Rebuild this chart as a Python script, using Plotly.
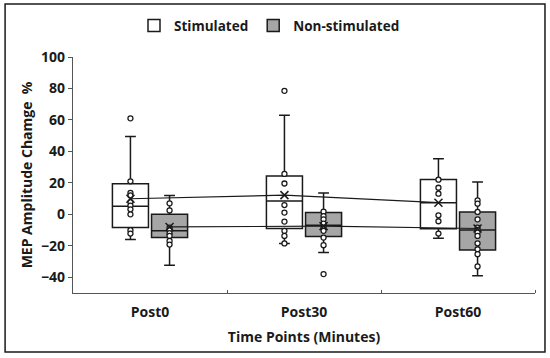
import plotly.graph_objects as go

categories = ["Post0", "Post30", "Post60"]
series_names = ["Stimulated", "Non-stimulated"]

# Box statistics
stim_q1 = [-8.4, -9.0, -9.1]
stim_median = [5.2, 8.4, 7.4]
stim_q3 = [19.4, 24.3, 22.2]
stim_low = [-16.0, -18.6, -15.2]
stim_high = [49.5, 62.9, 35.4]
stim_mean = [9.9, 12.2, 7.4]

non_q1 = [-14.8, -14.1, -22.6]
non_median = [-10.5, -7.0, -9.9]
non_q3 = [0.0, 1.1, 1.5]
non_low = [-32.3, -24.3, -39.0]
non_high = [12.0, 13.5, 20.5]
non_mean = [-8.0, -7.5, -9.0]

# Individual data points visible in the picture
stim_points = [
    [61, 21, 13.7, 12, 7.8, 5.5, 3.2, 0, -10.1, -12.2],
    [78.5, 25.7, 19.6, 5.9, 1.1, -4.6, -10.5, -13.7, -18.5],
    [22, 16.9, 13.1, -0.6, -4.4, -12.2],
]
non_points = [
    [7.0, 2.5, -8.5, -10.0, -12.0, -13.7, -16.9, -19.2],
    [1.7, -1.1, -3.2, -5.9, -8.4, -10.5, -14.8, -19.6, -38],
    [8.9, 6.8, 1.5, -3.2, -8.4, -9.9, -11.6, -13.7, -18.4, -22.2, -25.3, -33.1],
]

yticks = [-40, -20, 0, 20, 40, 60, 80, 100]

FONT = "Open Sans"
OFF = 0.127
BW = 0.234
idx = list(range(len(categories)))

fig = go.Figure()

specs = [
    (series_names[0], -OFF, "white", stim_q1, stim_median, stim_q3, stim_low, stim_high, stim_mean, stim_points),
    (series_names[1], OFF, "#a6a6a6", non_q1, non_median, non_q3, non_low, non_high, non_mean, non_points),
]

for name, off, fill, q1, med, q3, lo, hi, mean, pts in specs:
    xs = [i + off for i in idx]
    fig.add_trace(go.Box(
        x=xs, q1=q1, median=med, q3=q3, lowerfence=lo, upperfence=hi,
        name=name, fillcolor=fill, width=BW, whiskerwidth=0.3,
        line=dict(color="#1a1a1a", width=1.5), boxpoints=False,
        showlegend=True,
    ))

for name, off, fill, q1, med, q3, lo, hi, mean, pts in specs:
    xs = [i + off for i in idx]
    px, py = [], []
    for i, arr in zip(idx, pts):
        px += [i + off] * len(arr)
        py += arr
    fig.add_trace(go.Scatter(
        x=px, y=py, mode="markers", showlegend=False, hoverinfo="skip",
        marker=dict(symbol="circle", size=5, color="white",
                    line=dict(color="#1a1a1a", width=1.3)),
    ))
    fig.add_trace(go.Scatter(
        x=xs, y=mean, mode="lines+markers", showlegend=False,
        line=dict(color="#1a1a1a", width=1.2),
        marker=dict(symbol="x-thin-open", size=8,
                    line=dict(color="#1a1a1a", width=1.5)),
    ))

fig.update_layout(
    width=550, height=358,
    margin=dict(l=73, r=15, t=57, b=65, autoexpand=False),
    paper_bgcolor="white", plot_bgcolor="white",
    font=dict(family=FONT, size=13, color="#1a1a1a", weight="bold"),
    legend=dict(orientation="h", xref="container", x=0.49, xanchor="center",
                yref="container", y=0.928, yanchor="middle",
                font=dict(size=13.5, weight="bold"), itemwidth=30,
                traceorder="normal"),
    xaxis=dict(range=[-0.5, 2.5], tickmode="array", tickvals=idx,
               ticktext=categories, ticks="", showline=True,
               linecolor="#555555", linewidth=1.2, showgrid=False,
               zeroline=False, automargin=False, ticklabelstandoff=6,
               tickfont=dict(size=14, weight="bold"),
               minor=dict(tickmode="array", tickvals=[0.5, 1.5, 2.5],
                          ticks="inside", ticklen=3, tickcolor="#555555"),
               title=dict(text="Time Points (Minutes)", standoff=12,
                          font=dict(size=14, weight="bold"))),
    yaxis=dict(range=[-50, 100], tickmode="array", tickvals=yticks,
               ticks="outside", ticklen=4, tickcolor="#555555",
               showline=True, linecolor="#555555", linewidth=1.2,
               showgrid=False, zeroline=False, automargin=False,
               tickfont=dict(size=14, weight="bold"),
               title=dict(text="MEP Amplitude Chamge  %", standoff=5,
                          font=dict(size=14, weight="bold"))),
    shapes=[dict(type="rect", xref="paper", yref="paper",
                 x0=-0.147, x1=1.0216, y0=-0.25, y1=1.2246,
                 line=dict(color="#1a1a1a", width=1.5))],
)

fig.write_html("out.html", config={"displayModeBar": False},
               post_script="document.body.style.margin='0px';")
